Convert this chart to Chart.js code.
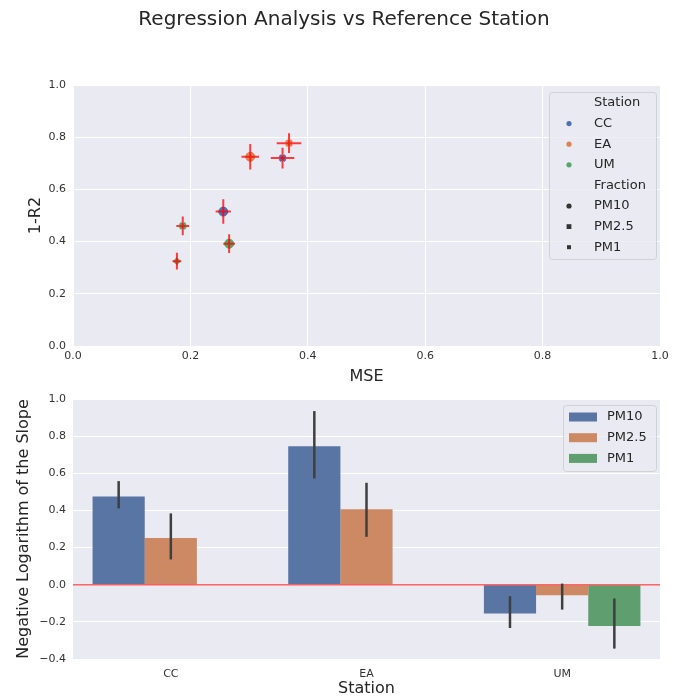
<!DOCTYPE html>
<html><head><meta charset="utf-8">
<script src="https://cdn.jsdelivr.net/npm/chart.js@4/dist/chart.umd.min.js"></script>
<style>
html,body{margin:0;padding:0;background:#fff;}
#wrap{position:relative;width:688px;height:698px;overflow:hidden;}
#title{position:absolute;left:0;top:6px;width:688px;text-align:center;font:20px "DejaVu Sans";color:#262626;}
#c1{position:absolute;left:0;top:0;}
#c2{position:absolute;left:0;top:390px;}
</style></head>
<body><div id="wrap"><canvas id="c1" width="688" height="390"></canvas><canvas id="c2" width="688" height="308"></canvas><div id="title">Regression Analysis vs Reference Station</div></div>
<script>
// ---------- data ----------
const stations = ['CC', 'EA', 'UM'];
const fractions = ['PM10', 'PM2.5', 'PM1'];

// scatter points (top panel)
const ptStation  = ['CC', 'CC', 'EA', 'EA', 'UM', 'UM', 'UM'];
const ptFraction = ['PM10', 'PM2.5', 'PM10', 'PM2.5', 'PM10', 'PM2.5', 'PM1'];
const mse        = [0.256, 0.357, 0.302, 0.368, 0.266, 0.187, 0.177];
const mseErr     = [0.013, 0.020, 0.015, 0.021, 0.010, 0.011, 0.0075];
const oneMinusR2 = [0.515, 0.720, 0.725, 0.777, 0.392, 0.460, 0.325];
const r2Err      = [0.047, 0.040, 0.049, 0.038, 0.036, 0.036, 0.032];

// bar values (bottom panel)
const slopePM10 = [0.475, 0.745, -0.155];
const slopePM25 = [0.252, 0.407, -0.057];
const slopePM1  = [null, null, -0.222];
const pm10Lo = [0.411, 0.572, -0.233], pm10Hi = [0.558, 0.935, -0.062];
const pm25Lo = [0.136, 0.258, -0.134], pm25Hi = [0.384, 0.549, 0.006];
const pm1Lo  = [null, null, -0.344],   pm1Hi  = [null, null, -0.074];

const ticksTop = [0, 0.2, 0.4, 0.6, 0.8, 1.0];
const ticksBottom = [-0.4, -0.2, 0, 0.2, 0.4, 0.6, 0.8, 1.0];

// ---------- styles ----------
const stationColor = {CC: '#4c72b0', EA: '#dd8452', UM: '#55a868'};
const barColor = ['#5875a4', '#cc8963', '#5f9e6e'];
const fracStyle = {'PM10': 'circle', 'PM2.5': 'crossRot', 'PM1': 'rectRot'};
const fracRadius = {'PM10': 4.5, 'PM2.5': 4, 'PM1': 3.5};
const FONT = '"DejaVu Sans"';
const TXT = '#262626';
const fmt = v => { const w = Math.abs(v) < 1e-9 ? 0 : v; return (w < 0 ? '\u2212' : '') + Math.abs(w).toFixed(1); };

Chart.defaults.font.family = FONT;
Chart.defaults.color = TXT;

const bgPlugin = {
  id: 'bg',
  beforeDraw(chart) {
    const a = chart.chartArea, ctx = chart.ctx;
    ctx.save(); ctx.fillStyle = '#eaeaf2';
    ctx.fillRect(a.left, a.top, a.right - a.left, a.bottom - a.top);
    ctx.restore();
  }
};

function legendBox(ctx, x, y, w, h) {
  ctx.save();
  ctx.fillStyle = 'rgba(234,234,242,0.8)';
  ctx.strokeStyle = 'rgba(204,204,204,0.8)';
  ctx.lineWidth = 1;
  ctx.beginPath();
  if (ctx.roundRect) ctx.roundRect(x + 0.5, y + 0.5, w, h, 3); else ctx.rect(x + 0.5, y + 0.5, w, h);
  ctx.fill(); ctx.stroke();
  ctx.restore();
}

function fitV(w) { return s => { s.width = w; s.paddingTop = 0; s.paddingBottom = 0; }; }
function fitH(h) { return s => { s.height = h; s.paddingLeft = 0; s.paddingRight = 0; }; }

// ---------- top chart ----------
const scatterErr = {
  id: 'scatterErr',
  afterDatasetsDraw(chart) {
    const {ctx, scales: {x, y}} = chart;
    ctx.save();
    ctx.strokeStyle = 'rgba(255,0,0,0.75)';
    ctx.lineWidth = 2;
    for (let i = 0; i < mse.length; i++) {
      const px = x.getPixelForValue(mse[i]), py = y.getPixelForValue(oneMinusR2[i]);
      ctx.beginPath();
      ctx.moveTo(x.getPixelForValue(mse[i] - mseErr[i]), py);
      ctx.lineTo(x.getPixelForValue(mse[i] + mseErr[i]), py);
      ctx.moveTo(px, y.getPixelForValue(oneMinusR2[i] - r2Err[i]));
      ctx.lineTo(px, y.getPixelForValue(oneMinusR2[i] + r2Err[i]));
      ctx.stroke();
    }
    ctx.restore();
  }
};

const scatterLegend = {
  id: 'scatterLegend',
  afterDraw(chart) {
    const ctx = chart.ctx, a = chart.chartArea;
    const bx = a.right - 111, by = a.top + 7, bw = 107, bh = 167;
    legendBox(ctx, bx, by, bw, bh);
    ctx.save();
    ctx.font = '13px ' + FONT;
    ctx.fillStyle = TXT;
    ctx.textBaseline = 'middle';
    const tx = bx + 45, mx = bx + 20;
    const rows = [
      {t: 'Station'},
      {t: 'CC', c: stationColor.CC, s: 'circle'},
      {t: 'EA', c: stationColor.EA, s: 'circle'},
      {t: 'UM', c: stationColor.UM, s: 'circle'},
      {t: 'Fraction'},
      {t: 'PM10', c: '#333333', s: 'circle', r: 2.6},
      {t: 'PM2.5', c: '#333333', s: 'rect', r: 2.4},
      {t: 'PM1', c: '#333333', s: 'rect', r: 2.0}
    ];
    rows.forEach((r, k) => {
      const ry = by + 11 + k * 20.6;
      ctx.fillStyle = TXT;
      ctx.fillText(r.t, tx, ry);
      if (r.c) {
        ctx.fillStyle = r.c;
        const rad = r.r || 2.6;
        ctx.beginPath();
        if (r.s === 'circle') ctx.arc(mx, ry, rad, 0, Math.PI * 2);
        else ctx.rect(mx - rad, ry - rad, rad * 2, rad * 2);
        ctx.fill();
      }
    });
    ctx.restore();
  }
};

new Chart(document.getElementById('c1'), {
  type: 'scatter',
  data: {
    datasets: [{
      data: mse.map((v, i) => ({x: v, y: oneMinusR2[i]})),
      pointBackgroundColor: ptStation.map(s => stationColor[s]),
      pointBorderColor: ptStation.map(s => stationColor[s]),
      pointBorderWidth: ptFraction.map(f => f === 'PM2.5' ? 3 : 1),
      pointStyle: ptFraction.map(f => fracStyle[f]),
      pointRadius: ptFraction.map(f => fracRadius[f])
    }]
  },
  options: {
    responsive: false, animation: false,
    layout: {padding: {left: 0, right: 28, top: 85, bottom: 0}},
    plugins: {legend: {display: false}, tooltip: {enabled: false}},
    scales: {
      x: {
        type: 'linear', min: 0, max: 1,
        afterBuildTicks: s => { s.ticks = ticksTop.map(v => ({value: v})); },
        afterFit: fitH(44),
        grid: {color: '#ffffff', lineWidth: 1, drawTicks: false},
        border: {display: false},
        ticks: {callback: fmt, padding: 4, font: {size: 11}, color: '#333', maxRotation: 0},
        title: {display: true, text: 'MSE', font: {size: 16}, padding: {top: 0, bottom: 4}}
      },
      y: {
        type: 'linear', min: 0, max: 1,
        afterBuildTicks: s => { s.ticks = ticksTop.map(v => ({value: v})); },
        afterFit: fitV(73),
        grid: {color: '#ffffff', lineWidth: 1, drawTicks: false},
        border: {display: false},
        ticks: {callback: fmt, padding: 7, font: {size: 11}, color: '#333'},
        title: {display: true, text: '1-R2', font: {size: 16}, padding: {top: 26, bottom: 0}}
      }
    }
  },
  plugins: [bgPlugin, scatterErr, scatterLegend]
});

// ---------- bottom chart ----------
const barLo = [pm10Lo, pm25Lo, pm1Lo], barHi = [pm10Hi, pm25Hi, pm1Hi];
const barExtras = {
  id: 'barExtras',
  afterDatasetsDraw(chart) {
    const {ctx, scales: {x, y}} = chart, a = chart.chartArea;
    ctx.save();
    // zero line
    const y0 = y.getPixelForValue(0);
    ctx.strokeStyle = 'rgba(255,50,50,0.75)';
    ctx.lineWidth = 1.5;
    ctx.beginPath(); ctx.moveTo(a.left, y0); ctx.lineTo(a.right, y0); ctx.stroke();
    // error bars
    ctx.strokeStyle = '#3f3f3f';
    ctx.lineWidth = 2.5;
    for (let d = 0; d < 3; d++) {
      const meta = chart.getDatasetMeta(d);
      meta.data.forEach((bar, i) => {
        if (barLo[d][i] == null) return;
        ctx.beginPath();
        ctx.moveTo(bar.x, y.getPixelForValue(barLo[d][i]));
        ctx.lineTo(bar.x, y.getPixelForValue(barHi[d][i]));
        ctx.stroke();
      });
    }
    ctx.restore();
  },
  afterDraw(chart) {
    const ctx = chart.ctx, a = chart.chartArea;
    const bx = a.right - 97, by = 15, bw = 93, bh = 66;
    legendBox(ctx, bx, by, bw, bh);
    ctx.save();
    ctx.font = '13px ' + FONT;
    ctx.textBaseline = 'middle';
    fractions.forEach((f, k) => {
      const ry = by + 12 + k * 20.7;
      ctx.fillStyle = barColor[k];
      ctx.fillRect(bx + 6, ry - 4.5, 28, 9);
      ctx.fillStyle = TXT;
      ctx.fillText(f, bx + 44, ry);
    });
    ctx.restore();
  }
};

new Chart(document.getElementById('c2'), {
  type: 'bar',
  data: {
    labels: stations,
    datasets: [
      {label: fractions[0], data: slopePM10, backgroundColor: barColor[0]},
      {label: fractions[1], data: slopePM25, backgroundColor: barColor[1]},
      {label: fractions[2], data: slopePM1, backgroundColor: barColor[2]}
    ]
  },
  options: {
    responsive: false, animation: false,
    layout: {padding: {left: 0, right: 28, top: 9, bottom: 0}},
    plugins: {legend: {display: false}, tooltip: {enabled: false}},
    datasets: {bar: {categoryPercentage: 0.8, barPercentage: 1.0, borderWidth: 0}},
    scales: {
      x: {
        afterFit: fitH(39),
        grid: {display: false, drawTicks: false},
        border: {display: false},
        ticks: {padding: 9, font: {size: 11}, color: '#333'},
        title: {display: true, text: 'Station', font: {size: 16}, padding: {top: 0, bottom: 0}}
      },
      y: {
        type: 'linear', min: -0.4, max: 1.0,
        afterBuildTicks: s => { s.ticks = ticksBottom.map(v => ({value: v})); },
        afterFit: fitV(73),
        grid: {color: '#ffffff', lineWidth: 1, drawTicks: false},
        border: {display: false},
        ticks: {callback: fmt, padding: 7, font: {size: 11}, color: '#333'},
        title: {display: true, text: 'Negative Logarithm of the Slope', font: {size: 16}, padding: {top: 14, bottom: 0}}
      }
    }
  },
  plugins: [bgPlugin, barExtras]
});
</script>
</body></html>
